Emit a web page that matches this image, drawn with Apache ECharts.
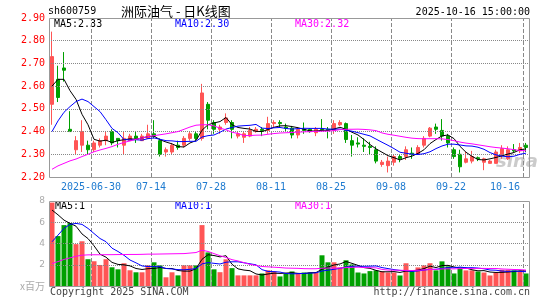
<!DOCTYPE html>
<html>
<head>
<meta charset="utf-8">
<script src="https://cdn.jsdelivr.net/npm/echarts@6/dist/echarts.min.js"></script>
<style>
  html, body { margin: 0; padding: 0; background: #fff; }
  #chart { width: 545px; height: 300px; }
</style>
</head>
<body>
<div id="chart"></div>
<script>
// trading days shown on the chart
const days = [
  '2025-06-19', '2025-06-20', '2025-06-23', '2025-06-24', '2025-06-25', '2025-06-26', '2025-06-27', '2025-06-30',
  '2025-07-01', '2025-07-02', '2025-07-03', '2025-07-04', '2025-07-07', '2025-07-08', '2025-07-09', '2025-07-10',
  '2025-07-11', '2025-07-14', '2025-07-15', '2025-07-16', '2025-07-17', '2025-07-18', '2025-07-21', '2025-07-22',
  '2025-07-23', '2025-07-24', '2025-07-25', '2025-07-28', '2025-07-29', '2025-07-30', '2025-07-31', '2025-08-01',
  '2025-08-04', '2025-08-05', '2025-08-06', '2025-08-07', '2025-08-08', '2025-08-11', '2025-08-12', '2025-08-13',
  '2025-08-14', '2025-08-15', '2025-08-18', '2025-08-19', '2025-08-20', '2025-08-21', '2025-08-22', '2025-08-25',
  '2025-08-26', '2025-08-27', '2025-08-28', '2025-08-29', '2025-09-01', '2025-09-02', '2025-09-03', '2025-09-04',
  '2025-09-05', '2025-09-08', '2025-09-09', '2025-09-10', '2025-09-11', '2025-09-12', '2025-09-15', '2025-09-16',
  '2025-09-17', '2025-09-18', '2025-09-19', '2025-09-22', '2025-09-23', '2025-09-24', '2025-09-25', '2025-09-26',
  '2025-09-29', '2025-09-30', '2025-10-09', '2025-10-10', '2025-10-13', '2025-10-14', '2025-10-15', '2025-10-16'
];

const opens = [
  2.52, 2.63, 2.68, 2.41, 2.32, 2.34, 2.34, 2.32, 2.34, 2.36,
  2.40, 2.37, 2.34, 2.36, 2.38, 2.36, 2.37, 2.39, 2.36, 2.31,
  2.31, 2.34, 2.34, 2.37, 2.39, 2.37, 2.52, 2.44, 2.41, 2.44,
  2.44, 2.38, 2.375, 2.38, 2.40, 2.41, 2.405, 2.435, 2.44, 2.42,
  2.415, 2.385, 2.41, 2.41, 2.395, 2.41, 2.41, 2.405, 2.43, 2.435,
  2.36, 2.35, 2.34, 2.335, 2.32, 2.255, 2.25, 2.265, 2.29, 2.29,
  2.305, 2.30, 2.34, 2.38, 2.42, 2.405, 2.38, 2.32, 2.30, 2.265,
  2.27, 2.285, 2.265, 2.26, 2.26, 2.295, 2.28, 2.32, 2.315, 2.34
];
const closes = [
  2.73, 2.55, 2.67, 2.40, 2.36, 2.40, 2.32, 2.35, 2.36, 2.38,
  2.35, 2.36, 2.37, 2.38, 2.37, 2.38, 2.39, 2.38, 2.30, 2.32,
  2.34, 2.33, 2.37, 2.39, 2.37, 2.57, 2.45, 2.41, 2.42, 2.46,
  2.41, 2.39, 2.39, 2.405, 2.41, 2.405, 2.435, 2.44, 2.435, 2.415,
  2.385, 2.41, 2.405, 2.40, 2.41, 2.405, 2.405, 2.435, 2.44, 2.365,
  2.34, 2.345, 2.335, 2.33, 2.27, 2.265, 2.27, 2.29, 2.28, 2.32,
  2.30, 2.33, 2.37, 2.415, 2.41, 2.38, 2.35, 2.29, 2.245, 2.28,
  2.29, 2.28, 2.28, 2.27, 2.31, 2.325, 2.32, 2.315, 2.33, 2.33
];
const lows = [
  2.43, 2.53, 2.62, 2.40, 2.30, 2.31, 2.30, 2.31, 2.33, 2.34,
  2.34, 2.33, 2.30, 2.36, 2.35, 2.36, 2.37, 2.37, 2.29, 2.29,
  2.30, 2.32, 2.33, 2.36, 2.36, 2.36, 2.41, 2.39, 2.39, 2.43,
  2.37, 2.37, 2.35, 2.375, 2.395, 2.38, 2.39, 2.42, 2.42, 2.40,
  2.37, 2.37, 2.39, 2.395, 2.38, 2.40, 2.37, 2.39, 2.425, 2.35,
  2.29, 2.33, 2.31, 2.30, 2.26, 2.245, 2.22, 2.25, 2.265, 2.275,
  2.28, 2.30, 2.33, 2.375, 2.39, 2.36, 2.33, 2.28, 2.22, 2.26,
  2.26, 2.27, 2.23, 2.26, 2.26, 2.28, 2.275, 2.31, 2.305, 2.31
];
const highs = [
  2.84, 2.69, 2.75, 2.49, 2.38, 2.45, 2.36, 2.36, 2.37, 2.40,
  2.41, 2.37, 2.40, 2.39, 2.40, 2.39, 2.43, 2.45, 2.37, 2.33,
  2.35, 2.36, 2.38, 2.40, 2.40, 2.61, 2.53, 2.45, 2.43, 2.48,
  2.45, 2.40, 2.40, 2.42, 2.42, 2.42, 2.465, 2.45, 2.45, 2.435,
  2.425, 2.42, 2.44, 2.415, 2.42, 2.455, 2.42, 2.45, 2.45, 2.44,
  2.385, 2.375, 2.37, 2.355, 2.335, 2.275, 2.29, 2.30, 2.30, 2.335,
  2.33, 2.34, 2.38, 2.42, 2.435, 2.455, 2.39, 2.33, 2.32, 2.31,
  2.315, 2.29, 2.285, 2.275, 2.32, 2.34, 2.335, 2.345, 2.35, 2.35
];
// volume, millions of shares
const volumes = [
  7.85, 4.70, 5.73, 5.92, 3.94, 4.21, 2.52, 2.33, 1.98, 2.52,
  1.76, 1.57, 2.14, 1.48, 1.29, 1.29, 1.95, 2.23, 1.95, 0.82,
  1.29, 1.00, 1.95, 1.94, 1.94, 5.73, 3.16, 1.57, 1.30, 2.51,
  1.68, 1.00, 1.00, 1.00, 1.00, 1.18, 1.48, 1.37, 0.90, 1.15,
  1.37, 1.15, 1.27, 1.27, 1.27, 2.89, 2.23, 2.23, 1.75, 2.42,
  2.03, 1.27, 1.18, 1.40, 1.47, 1.37, 1.27, 1.27, 0.99, 2.14,
  1.37, 1.75, 1.94, 2.14, 1.47, 2.32, 1.85, 1.18, 1.66, 1.47,
  1.47, 1.37, 1.27, 0.99, 1.27, 1.53, 1.53, 1.47, 1.37, 1.18
];

// moving averages for the first days (window starts before the chart)
const ma5Head = [2.60, 2.63, 2.63, 2.58];
const ma10Head = [2.40, 2.447, 2.485, 2.51, 2.532, 2.543, 2.532, 2.51, 2.488];
const ma30Head = [
  2.234, 2.249, 2.26, 2.271, 2.279, 2.29, 2.30, 2.311, 2.319, 2.326,
  2.334, 2.344, 2.352, 2.359, 2.366, 2.372, 2.378, 2.382, 2.386, 2.39,
  2.395, 2.40, 2.41, 2.42, 2.428, 2.43, 2.43, 2.425, 2.415
];
const volMa5Head = [7.15, 6.7, 6.2, 5.9];
const volMa10Head = [4.16, 4.79, 5.42, 5.8, 5.89, 5.8, 5.42, 4.94, 4.47];
const volMa30Head = [
  2.11, 2.3, 2.5, 2.65, 2.8, 2.9, 2.93, 2.94, 2.94, 2.95,
  2.95, 2.96, 2.96, 2.97, 2.97, 2.98, 3.0, 3.0, 3.01, 3.02,
  3.03, 3.04, 3.05, 3.1, 3.15, 3.37, 3.25, 3.05, 2.85
];

const tickDays = ['2025-06-30', '2025-07-14', '2025-07-28', '2025-08-11', '2025-08-25', '2025-09-08', '2025-09-22', '2025-10-16'];
const priceLevels = [2.3, 2.4, 2.5, 2.6, 2.7, 2.8];
const volumeLevels = [2, 4, 6];

const RED = '#ff5555';
const GREEN = '#00a000';
const MONO = '"DejaVu Sans Mono", monospace';

const movingAverage = ( values, n, head ) => values.map( ( v, i ) => {
  if ( i < head.length ) {
    return head[ i ];
  }
  let sum = 0;
  for ( let k = i - n + 1; k <= i; k++ ) {
    sum += values[ k ];
  }
  return +( sum / n ).toFixed( 4 );
} );

const isTickDay = ( index ) => tickDays.indexOf( days[ index ] ) !== -1;

// grid lines as mark lines: levels on the value axes, day boundaries on a hidden
// value axis that counts days from the left edge of the first candle
const levelMarks = ( levels ) => ( {
  silent: true,
  symbol: 'none',
  animation: false,
  label: { show: false },
  emphasis: { disabled: true },
  lineStyle: { color: '#888', type: 'dotted', width: 1 },
  data: levels.map( ( v ) => ( { yAxis: v } ) )
} );
const dayMarks = () => ( {
  silent: true,
  symbol: 'none',
  animation: false,
  label: { show: false },
  emphasis: { disabled: true },
  lineStyle: { color: '#888', type: 'dashed', width: 1 },
  data: tickDays.map( ( d ) => ( { xAxis: days.indexOf( d ) } ) )
} );

const maLine = ( data, color, axis ) => ( {
  type: 'line',
  xAxisIndex: axis,
  yAxisIndex: axis,
  data,
  symbol: 'none',
  silent: true,
  z: 5,
  lineStyle: { color, width: 1 }
} );

const label = ( text, x, y, color, align ) => ( {
  type: 'text',
  silent: true,
  style: {
    text,
    x,
    y,
    fill: color,
    font: '10px ' + MONO,
    textAlign: align || 'left',
    textVerticalAlign: 'middle',
    align: align || 'left',
    verticalAlign: 'middle'
  }
} );

// frame round each panel
const frame = ( top, height ) => ( {
  type: 'rect',
  silent: true,
  z: 50,
  shape: { x: 49.5, y: top + 0.5, width: 480, height },
  style: { fill: 'none', stroke: '#999', lineWidth: 1 }
} );

const dayAxis = ( gridIndex ) => ( {
  type: 'value',
  gridIndex,
  min: 0,
  max: days.length,
  show: false
} );

const ohlc = opens.map( ( o, i ) => [ o, closes[ i ], lows[ i ], highs[ i ] ] );
const volumeBars = volumes.map( ( v, i ) => ( {
  value: v,
  itemStyle: { color: closes[ i ] >= opens[ i ] ? RED : GREEN }
} ) );

const chart = echarts.init( document.getElementById( 'chart' ) );

chart.setOption( {
  animation: false,
  grid: [
    { left: 49, top: 18, width: 480, height: 159 },
    { left: 49, top: 201, width: 480, height: 85 }
  ],
  xAxis: [
    {
      type: 'category',
      gridIndex: 0,
      data: days,
      boundaryGap: true,
      axisLine: { show: false },
      axisTick: { show: false },
      splitLine: { show: false },
      axisLabel: {
        interval: isTickDay,
        formatter: ( value ) => value === '2025-06-30' ? value : value.slice( 5 ),
        color: '#1f7bd0',
        fontFamily: MONO,
        fontSize: 10,
        margin: 5,
        padding: [ 0, 6, 0, 0 ],
        alignMaxLabel: 'right'
      }
    },
    {
      type: 'category',
      gridIndex: 1,
      data: days,
      boundaryGap: true,
      axisLine: { show: false },
      axisTick: { show: false },
      splitLine: { show: false },
      axisLabel: { show: false }
    },
    dayAxis( 0 ),
    dayAxis( 1 )
  ],
  yAxis: [
    {
      type: 'value',
      gridIndex: 0,
      min: 2.2,
      max: 2.9,
      interval: 0.1,
      axisLine: { show: false },
      axisTick: { show: false },
      splitLine: { show: false },
      axisLabel: {
        color: '#ff0000',
        fontFamily: MONO,
        fontSize: 10,
        margin: 4,
        formatter: ( v ) => v.toFixed( 2 )
      }
    },
    {
      type: 'value',
      gridIndex: 1,
      min: 0,
      max: 8,
      interval: 2,
      axisLine: { show: false },
      axisTick: { show: false },
      splitLine: { show: false },
      axisLabel: {
        color: '#aaa',
        fontFamily: '"DejaVu Sans", sans-serif',
        fontSize: 9,
        margin: 4,
        formatter: ( v ) => v === 0 ? '{u|x百万}' : String( v ),
        rich: {
          u: { color: '#aaa', fontSize: 10, fontFamily: '"Noto Sans CJK SC", sans-serif' }
        }
      }
    }
  ],
  series: [
    {
      type: 'line',
      xAxisIndex: 2,
      yAxisIndex: 0,
      data: [],
      silent: true,
      markLine: dayMarks()
    },
    {
      type: 'line',
      xAxisIndex: 3,
      yAxisIndex: 1,
      data: [],
      silent: true,
      markLine: dayMarks()
    },
    {
      type: 'candlestick',
      xAxisIndex: 0,
      yAxisIndex: 0,
      data: ohlc,
      barWidth: 4,
      silent: true,
      itemStyle: {
        color: RED,
        color0: GREEN,
        borderColor: RED,
        borderColor0: GREEN,
        borderWidth: 1
      },
      markLine: levelMarks( priceLevels )
    },
    maLine( movingAverage( closes, 5, ma5Head ), '#000000', 0 ),
    maLine( movingAverage( closes, 10, ma10Head ), '#0000ff', 0 ),
    maLine( movingAverage( closes, 30, ma30Head ), '#ff00ff', 0 ),
    {
      type: 'bar',
      xAxisIndex: 1,
      yAxisIndex: 1,
      data: volumeBars,
      barWidth: 5,
      silent: true,
      markLine: levelMarks( volumeLevels )
    },
    maLine( movingAverage( volumes, 5, volMa5Head ), '#000000', 1 ),
    maLine( movingAverage( volumes, 10, volMa10Head ), '#0000ff', 1 ),
    maLine( movingAverage( volumes, 30, volMa30Head ), '#ff00ff', 1 )
  ],
  graphic: [
    frame( 18, 159 ),
    frame( 201, 85 ),
    label( 'sh600759', 48, 11, '#000' ),
    {
      type: 'text',
      silent: true,
      style: {
        text: '洲际油气 - 日K线图',
        x: 121,
        y: 11,
        fill: '#000',
        font: '13px "Noto Sans CJK SC", sans-serif',
        textVerticalAlign: 'middle',
        verticalAlign: 'middle'
      }
    },
    label( '2025-10-16 15:00:00', 530, 12, '#000', 'right' ),
    label( 'MA5:2.33', 54, 24, '#000' ),
    label( 'MA10:2.30', 175, 24, '#0000ff' ),
    label( 'MA30:2.32', 295, 24, '#ff00ff' ),
    label( 'MA5:1', 55, 206, '#000' ),
    label( 'MA10:1', 175, 206, '#0000ff' ),
    label( 'MA30:1', 295, 206, '#ff00ff' ),
    label( 'Copyright 2025 SINA.COM', 50, 292, '#444' ),
    label( 'http://finance.sina.com.cn', 530, 292, '#444', 'right' ),
    {
      type: 'text',
      silent: true,
      style: {
        text: 'sina',
        x: 496,
        y: 162,
        fill: 'rgba(160,160,160,0.55)',
        font: 'italic bold 18px "DejaVu Sans", sans-serif',
        textVerticalAlign: 'middle',
        verticalAlign: 'middle'
      }
    }
  ]
} );
</script>
</body>
</html>
